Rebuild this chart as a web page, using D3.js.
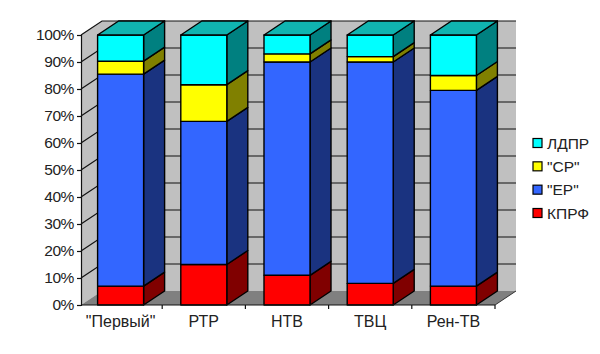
<!DOCTYPE html>
<html>
<head>
<meta charset="utf-8">
<script src="https://cdn.jsdelivr.net/npm/d3@7"></script>
<style>
  html, body { margin: 0; padding: 0; background: #fff; }
  svg { display: block; }
  text { font-family: "Liberation Sans", Arial, sans-serif; fill: #222; }
</style>
</head>
<body>
<div id="chart"></div>
<script>
const channels = ['"Первый"', "РТР", "НТВ", "ТВЦ", "Рен-ТВ"];
const parties = ["КПРФ", '"ЕР"', '"СР"', "ЛДПР"];
const kprf = [7, 15, 11, 8, 7];
const er = [78.5, 53, 79, 82, 72.5];
const sr = [4.8, 13.6, 3, 2, 5.5];
const ldpr = [9.7, 18.4, 7, 8, 15];
const yTicks = [0, 10, 20, 30, 40, 50, 60, 70, 80, 90, 100];

const frontColors = ["#ff0000", "#3366ff", "#ffff00", "#00ffff"];
const sideColors = ["#800000", "#1a3380", "#808000", "#008080"];
const topColor = "#10b4b0";

const width = 600, height = 354;
const depthX = 21, depthY = 14;
const axisX = 81;

const svg = d3.select("#chart").append("svg")
    .attr("width", width)
    .attr("height", height);

const x = d3.scaleBand().domain(channels).range([79, 495]).paddingInner(0.447).paddingOuter(0.2235);
const y = d3.scaleLinear().domain([0, 100]).range([305, 35]);

const rows = channels.map((c, i) => ({ channel: c, 0: kprf[i], 1: er[i], 2: sr[i], 3: ldpr[i] }));
const series = d3.stack().keys([0, 1, 2, 3])(rows);

const poly = pts => pts.map(p => p.join(",")).join(" ");
const right = 495;

// walls and floor
const walls = svg.append("g");
walls.append("polygon")
    .attr("points", poly([[axisX + depthX, y(0) - depthY], [right + depthX, y(0) - depthY], [right + depthX, y(100) - depthY], [axisX + depthX, y(100) - depthY]]))
    .attr("fill", "#c0c0c0");
walls.append("polygon")
    .attr("points", poly([[axisX, y(0)], [axisX + depthX, y(0) - depthY], [axisX + depthX, y(100) - depthY], [axisX, y(100)]]))
    .attr("fill", "#c0c0c0");
walls.append("polygon")
    .attr("points", poly([[axisX, y(0)], [axisX + depthX, y(0) - depthY], [right + depthX, y(0) - depthY], [right, y(0)]]))
    .attr("fill", "#808080");

// gridlines run along the side wall and the back wall
walls.selectAll("polyline")
    .data(yTicks.filter(d => d > 0))
    .join("polyline")
    .attr("points", d => poly([[axisX, y(d)], [axisX + depthX, y(d) - depthY], [right + depthX, y(d) - depthY]]))
    .attr("fill", "none")
    .attr("stroke", "#111")
    .attr("stroke-width", 1.2);

// floor edge on the right
walls.append("line")
    .attr("x1", right).attr("y1", y(0))
    .attr("x2", right + depthX).attr("y2", y(0) - depthY)
    .attr("stroke", "#333");

// bars
const bw = x.bandwidth();
const bars = svg.append("g")
    .attr("stroke", "#000")
    .attr("stroke-width", 1.4)
    .attr("stroke-linejoin", "round");

series.forEach((s, k) => {
    const g = bars.append("g");
    g.selectAll("polygon.side")
        .data(s)
        .join("polygon")
        .attr("class", "side")
        .attr("fill", sideColors[k])
        .attr("points", d => {
            const xr = x(d.data.channel) + bw;
            return poly([[xr, y(d[0])], [xr + depthX, y(d[0]) - depthY], [xr + depthX, y(d[1]) - depthY], [xr, y(d[1])]]);
        });
    g.selectAll("rect")
        .data(s)
        .join("rect")
        .attr("x", d => x(d.data.channel))
        .attr("y", d => y(d[1]))
        .attr("width", bw)
        .attr("height", d => y(d[0]) - y(d[1]))
        .attr("fill", frontColors[k]);
});

// top faces
bars.append("g").selectAll("polygon")
    .data(channels)
    .join("polygon")
    .attr("fill", topColor)
    .attr("points", c => {
        const xl = x(c), t = y(100);
        return poly([[xl, t], [xl + depthX, t - depthY], [xl + bw + depthX, t - depthY], [xl + bw, t]]);
    });

// axes
const yAxis = svg.append("g")
    .attr("transform", `translate(${axisX},0)`)
    .call(d3.axisLeft(y).tickValues(yTicks).tickFormat(d => d + "%").tickSize(4).tickPadding(3));
yAxis.selectAll("path, line").attr("stroke", "#111").attr("stroke-width", 1.2);
yAxis.selectAll("text").style("font-size", "15.5px").style("letter-spacing", "-0.4px").attr("fill", "#222");

const xAxis = svg.append("g")
    .attr("transform", `translate(0,${y(0)})`)
    .call(d3.axisBottom(x).tickSize(0).tickPadding(11));
xAxis.select(".domain").attr("d", `M${axisX},0H${right}`).attr("stroke", "#111").attr("stroke-width", 1.2);
xAxis.selectAll("text").style("font-size", "16px").attr("fill", "#222");

// category separators sit between the bands
svg.append("g").selectAll("line")
    .data(channels)
    .join("line")
    .attr("x1", c => x(c) + x.step() - x.step() * x.paddingOuter())
    .attr("x2", c => x(c) + x.step() - x.step() * x.paddingOuter())
    .attr("y1", y(0))
    .attr("y2", y(0) + 4)
    .attr("stroke", "#111")
    .attr("stroke-width", 1.2);

// legend
const legendY = d3.scalePoint().domain(parties.slice().reverse()).range([143, 213]);
const legend = svg.append("g").selectAll("g")
    .data(parties)
    .join("g")
    .attr("transform", d => `translate(533,${legendY(d)})`);
legend.append("rect")
    .attr("x", 0).attr("y", -4.5)
    .attr("width", 9).attr("height", 9)
    .attr("fill", (d, i) => frontColors[i])
    .attr("stroke", "#000")
    .attr("stroke-width", 1.2);
legend.append("text")
    .attr("x", 14)
    .attr("dy", "0.36em")
    .style("font-size", "15.5px")
    .text(d => d);
</script>
</body>
</html>
